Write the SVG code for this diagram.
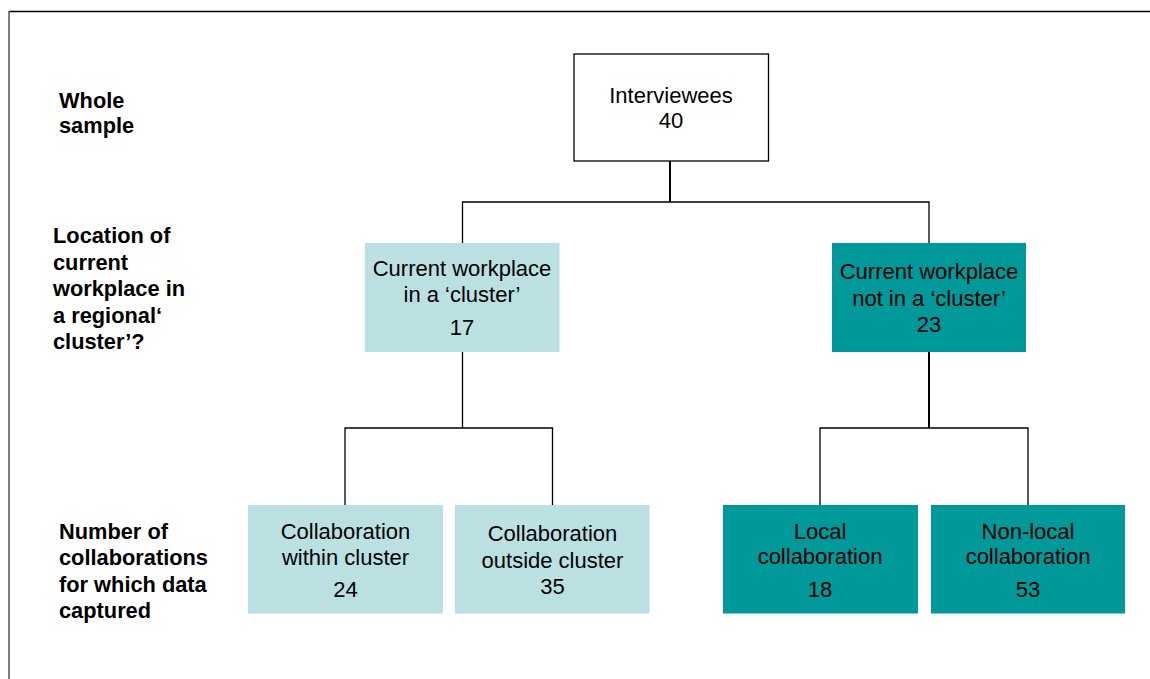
<svg xmlns="http://www.w3.org/2000/svg" width="1150" height="679" viewBox="0 0 1150 679">
  <style>
    .node-text { font-family: "Liberation Sans", Arial, sans-serif; font-size: 22px; fill: #000; text-anchor: middle; }
    .row-label { font-family: "Liberation Sans", Arial, sans-serif; font-size: 21.8px; font-weight: bold; fill: #000; }
    .light { fill: #bae0e2; }
    .dark { fill: #009999; }
    .edge { fill: none; stroke: #000; stroke-width: 1.3; }
    .edge-thick { fill: none; stroke: #000; stroke-width: 2; }
  </style>

  <rect x="0" y="0" width="1150" height="679" fill="#ffffff"/>

  <!-- outer frame (top and left edges) -->
  <g id="frame">
    <line x1="9" y1="11.5" x2="1150" y2="11.5" stroke="#000" stroke-width="1.5"/>
    <line x1="9" y1="11" x2="9" y2="679" stroke="#555" stroke-width="1.5"/>
  </g>

  <!-- row labels -->
  <g id="label-whole-sample" class="row-label">
    <text x="59" y="108">Whole</text>
    <text x="59" y="133">sample</text>
  </g>
  <g id="label-location" class="row-label">
    <text x="53" y="243">Location of</text>
    <text x="53" y="269.5">current</text>
    <text x="53" y="296">workplace in</text>
    <text x="53" y="322.5">a regional‘</text>
    <text x="53" y="349">cluster’?</text>
  </g>
  <g id="label-collaborations" class="row-label">
    <text x="59" y="539">Number of</text>
    <text x="59" y="565">collaborations</text>
    <text x="59" y="591.5">for which data</text>
    <text x="59" y="618">captured</text>
  </g>

  <!-- connectors -->
  <g id="connectors">
    <line class="edge-thick" x1="670" y1="161" x2="670" y2="202"/>
    <polyline class="edge" points="462.5,243 462.5,202 929,202 929,243"/>
    <line class="edge" x1="462.5" y1="352" x2="462.5" y2="428"/>
    <polyline class="edge" points="345,505 345,428 552.5,428 552.5,505"/>
    <line class="edge-thick" x1="929" y1="352" x2="929" y2="428"/>
    <polyline class="edge" points="820,505 820,428 1028,428 1028,505"/>
  </g>

  <!-- nodes -->
  <g id="node-interviewees">
    <rect x="574" y="54" width="194.5" height="107" fill="#fff" stroke="#000" stroke-width="1.3"/>
    <text class="node-text" x="671" y="103">Interviewees</text>
    <text class="node-text" x="671" y="128">40</text>
  </g>

  <g id="node-in-cluster">
    <rect class="light" x="365" y="243" width="194.5" height="109"/>
    <text class="node-text" x="462" y="276">Current workplace</text>
    <text class="node-text" x="462" y="302">in a ‘cluster’</text>
    <text class="node-text" x="462" y="335">17</text>
  </g>

  <g id="node-not-in-cluster">
    <rect class="dark" x="832" y="243" width="194" height="109"/>
    <text class="node-text" x="929" y="279">Current workplace</text>
    <text class="node-text" x="929" y="305.5">not in a ‘cluster’</text>
    <text class="node-text" x="929" y="332">23</text>
  </g>

  <g id="node-within-cluster">
    <rect class="light" x="248" y="505" width="195" height="108.5"/>
    <text class="node-text" x="345.5" y="539">Collaboration</text>
    <text class="node-text" x="345.5" y="565">within cluster</text>
    <text class="node-text" x="345.5" y="597">24</text>
  </g>

  <g id="node-outside-cluster">
    <rect class="light" x="455" y="505" width="194.5" height="108.5"/>
    <text class="node-text" x="552.5" y="541">Collaboration</text>
    <text class="node-text" x="552.5" y="568">outside cluster</text>
    <text class="node-text" x="552.5" y="594">35</text>
  </g>

  <g id="node-local">
    <rect class="dark" x="723" y="505" width="195" height="108.5"/>
    <text class="node-text" x="820" y="539">Local</text>
    <text class="node-text" x="820" y="564">collaboration</text>
    <text class="node-text" x="820" y="597">18</text>
  </g>

  <g id="node-non-local">
    <rect class="dark" x="931" y="505" width="194" height="108.5"/>
    <text class="node-text" x="1028" y="539">Non-local</text>
    <text class="node-text" x="1028" y="564">collaboration</text>
    <text class="node-text" x="1028" y="597">53</text>
  </g>
</svg>
